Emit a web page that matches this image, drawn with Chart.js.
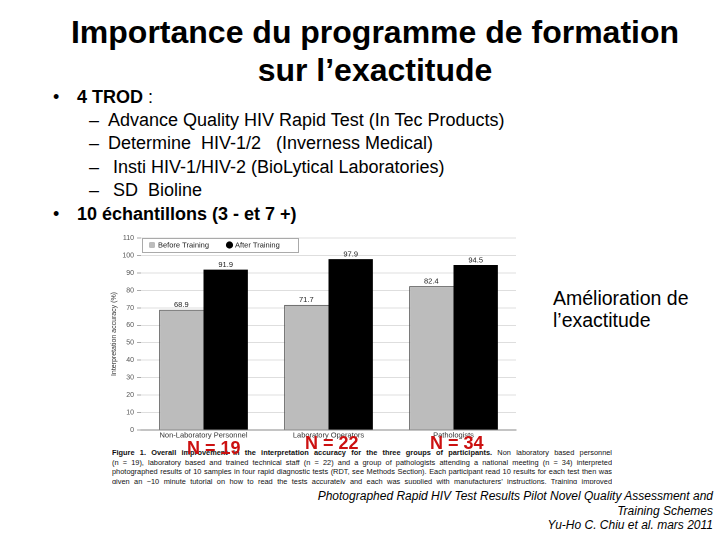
<!DOCTYPE html>
<html>
<head>
<meta charset="utf-8">
<script src="https://cdn.jsdelivr.net/npm/chart.js@4"></script>
<style>
  html,body{margin:0;padding:0;background:#fff;}
  body{width:720px;height:540px;position:relative;overflow:hidden;font-family:"Liberation Sans",Arial,sans-serif;color:#000;}
  .abs{position:absolute;white-space:nowrap;}
  .title{left:30px;width:690px;text-align:center;font-size:32px;font-weight:bold;line-height:38px;top:13px;}
  .b{font-size:18px;line-height:20px;}
  .n{font-size:18px;font-weight:bold;color:#cc1111;line-height:18px;}
  .cap{left:112px;top:448px;width:500px;height:36px;overflow:hidden;font-size:7.4px;line-height:9.5px;color:#111;}
  .cap div{text-align:justify;text-align-last:justify;white-space:nowrap;}
  .cite{right:7px;text-align:right;font-style:italic;font-size:12px;line-height:14.5px;top:489px;}
  #wrap{position:absolute;left:108px;top:230px;width:410px;height:212px;}
</style>
</head>
<body>
<div class="abs title">Importance du programme de formation<br>sur l’exactitude</div>

<div class="abs b" style="left:53px;top:87px;">•</div>
<div class="abs b" style="left:77px;top:87px;"><b>4 TROD</b> :</div>
<div class="abs b" style="left:89px;top:110px;">–</div>
<div class="abs b" style="left:108px;top:110px;">Advance Quality HIV Rapid Test (In Tec Products)</div>
<div class="abs b" style="left:89px;top:133px;">–</div>
<div class="abs b" style="left:108px;top:133px;">Determine&nbsp; HIV-1/2&nbsp;&nbsp; (Inverness Medical)</div>
<div class="abs b" style="left:89px;top:157px;">–</div>
<div class="abs b" style="left:113px;top:157px;">Insti HIV-1/HIV-2 (BioLytical Laboratories)</div>
<div class="abs b" style="left:89px;top:180px;">–</div>
<div class="abs b" style="left:113px;top:180px;">SD&nbsp; Bioline</div>
<div class="abs b" style="left:53px;top:204px;">•</div>
<div class="abs b" style="left:77px;top:204px;font-weight:bold;">10 échantillons (3 - et 7 +)</div>

<div class="abs" style="left:553px;top:287px;font-size:19.5px;line-height:22px;">Amélioration de<br>l’exactitude</div>

<div id="wrap"><canvas id="c"></canvas></div>

<div class="abs cap">
<div><b>Figure 1. Overall improvement in the interpretation accuracy for the three groups of participants.</b> Non laboratory based personnel</div>
<div>(n = 19), laboratory based and trained technical staff (n = 22) and a group of pathologists attending a national meeting (n = 34) interpreted</div>
<div>photographed results of 10 samples in four rapid diagnostic tests (RDT, see Methods Section). Each participant read 10 results for each test then was</div>
<div>given an ~10 minute tutorial on how to read the tests accurately and each was supplied with manufacturers’ instructions. Training improved</div>
</div>

<div class="abs n" style="left:187px;top:439px;">N = 19</div>
<div class="abs n" style="left:305px;top:434px;">N = 22</div>
<div class="abs n" style="left:430px;top:434px;">N = 34</div>

<div class="abs cite">Photographed Rapid HIV Test Results Pilot Novel Quality Assessment and<br>Training Schemes<br>Yu-Ho C. Chiu et al. mars 2011</div>

<script>
const categories = ['Non-Laboratory Personnel', 'Laboratory Operators', 'Pathologists'];
const seriesNames = ['Before Training', 'After Training'];
const beforeTraining = [68.9, 71.7, 82.4];
const afterTraining = [91.9, 97.9, 94.5];
const yMin = 0, yMax = 110, yStep = 10;
const yTitle = 'Interpretation accuracy (%)';

const valueLabels = {
  id: 'valueLabels',
  afterDatasetsDraw(chart) {
    const ctx = chart.ctx;
    ctx.save();
    ctx.font = '7.5px "Liberation Sans", Arial, sans-serif';
    ctx.fillStyle = '#222';
    ctx.textAlign = 'center';
    ctx.textBaseline = 'bottom';
    chart.data.datasets.forEach((ds, i) => {
      chart.getDatasetMeta(i).data.forEach((bar, j) => {
        ctx.fillText(ds.data[j].toFixed(1), bar.x, bar.y - 1);
      });
    });
    ctx.restore();
  }
};

const boxLegend = {
  id: 'boxLegend',
  afterDraw(chart) {
    const ctx = chart.ctx, a = chart.chartArea;
    const x = a.left + 1, y = a.top, w = 156, h = 14;
    ctx.save();
    ctx.fillStyle = '#fff';
    ctx.fillRect(x, y, w, h);
    ctx.strokeStyle = '#aaa';
    ctx.lineWidth = 1;
    ctx.strokeRect(x + 0.5, y + 0.5, w, h);
    ctx.font = '7.5px "Liberation Sans", Arial, sans-serif';
    ctx.textBaseline = 'middle';
    ctx.textAlign = 'left';
    let cx = x + 7;
    chart.data.datasets.forEach((ds, i) => {
      ctx.fillStyle = ds.backgroundColor;
      ctx.beginPath();
      if (i === 0) {
        ctx.roundRect(cx, y + 4, 6, 6, 1.5);
      } else {
        ctx.arc(cx + 3.5, y + 7, 3.6, 0, Math.PI * 2);
      }
      ctx.fill();
      ctx.fillStyle = '#222';
      ctx.fillText(ds.label, cx + 9, y + 7.5);
      cx += 77;
    });
    ctx.restore();
  }
};

new Chart(document.getElementById('c'), {
  type: 'bar',
  data: {
    labels: categories,
    datasets: [
      { label: seriesNames[0], data: beforeTraining, backgroundColor: '#bcbcbc', borderColor: '#555', borderWidth: {top:1,left:1,right:0,bottom:0}, borderSkipped: false },
      { label: seriesNames[1], data: afterTraining, backgroundColor: '#000', borderColor: '#000', borderWidth: 0 }
    ]
  },
  options: {
    responsive: true,
    maintainAspectRatio: false,
    animation: false,
    devicePixelRatio: 2,
    layout: { padding: { top: 8, right: 2, left: 0, bottom: 0 } },
    plugins: { legend: { display: false }, tooltip: { enabled: false } },
    datasets: { bar: { categoryPercentage: 0.71, barPercentage: 1.0 } },
    scales: {
      x: {
        grid: { display: false, drawTicks: false },
        border: { color: '#888', width: 1 },
        ticks: { color: '#333', font: { size: 7.5, family: '"Liberation Sans", Arial' }, padding: 1, maxRotation: 0 },
        afterFit(s) { s.height = 12; }
      },
      y: {
        min: yMin, max: yMax,
        ticks: { stepSize: yStep, color: '#555', font: { size: 7, family: '"Liberation Sans", Arial' }, padding: 3 },
        grid: { color: '#dedede', tickLength: 4, tickColor: '#aaa' },
        border: { display: false },
        title: { display: true, text: yTitle, color: '#333', font: { size: 7, family: '"Liberation Sans", Arial' }, padding: 2 },
        afterFit(s) { s.width = 33; }
      }
    }
  },
  plugins: [valueLabels, boxLegend]
});
</script>
</body>
</html>
